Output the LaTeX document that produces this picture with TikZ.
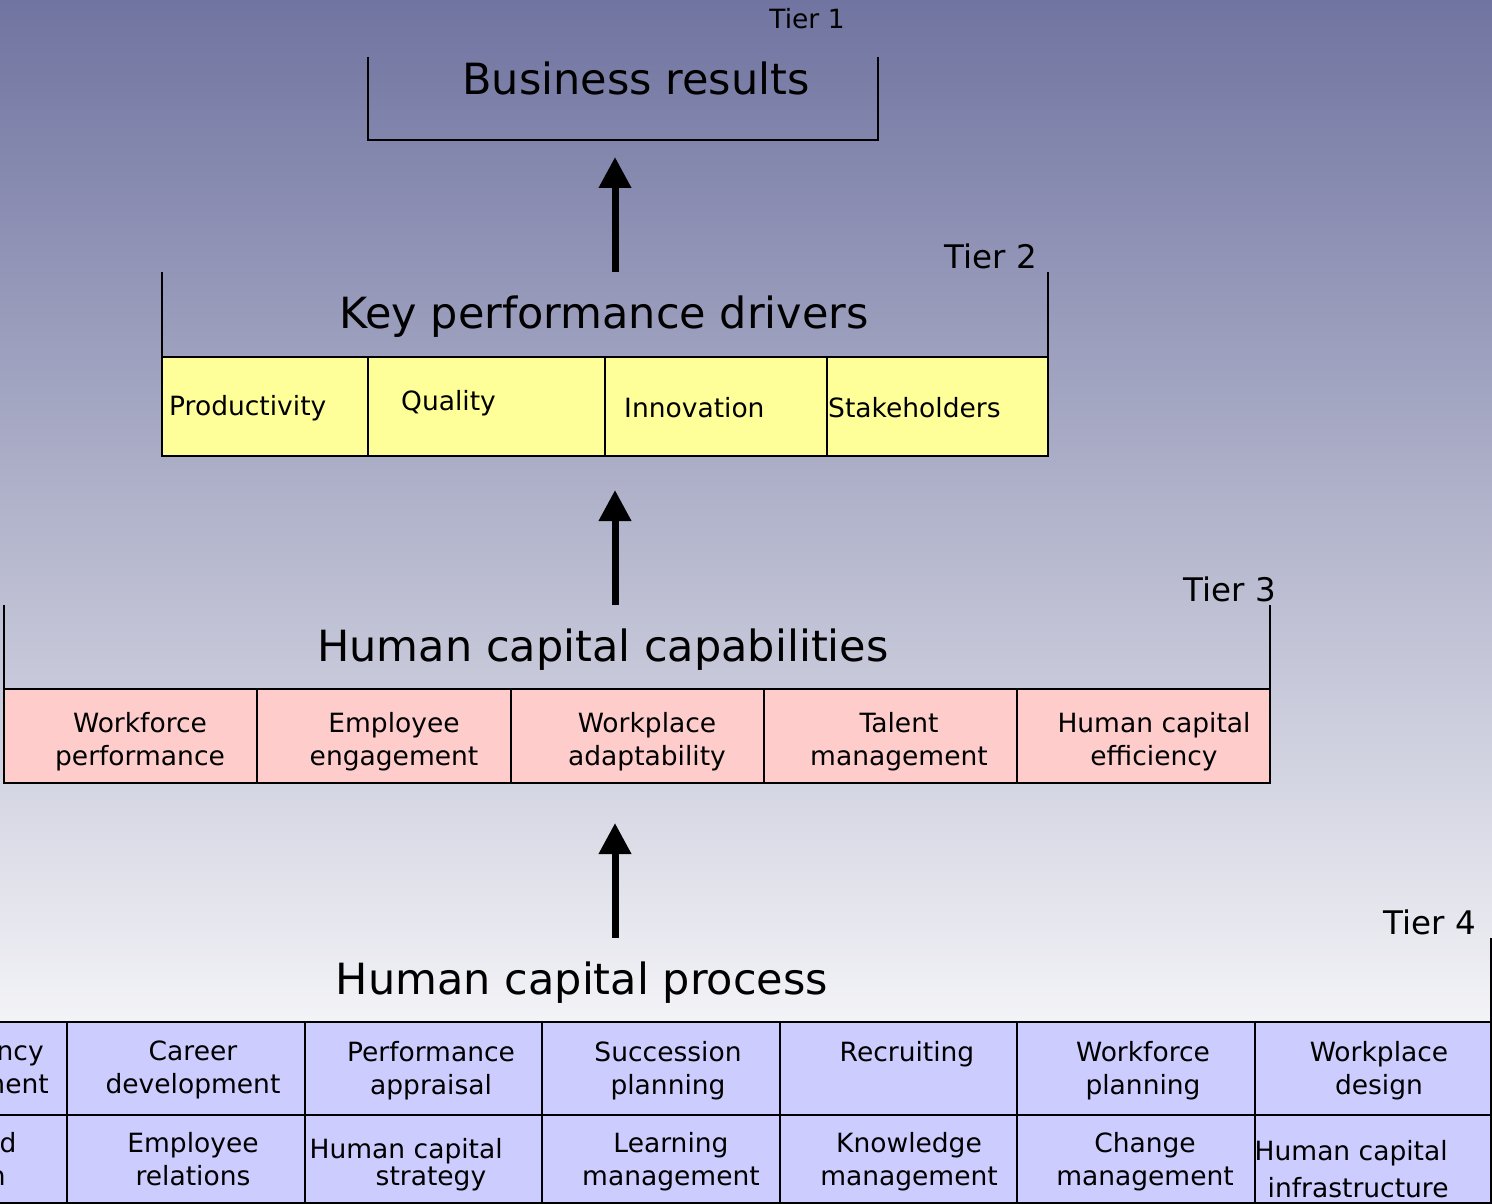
\documentclass[tikz,border=0pt]{standalone}
\usepackage{fontspec}
\setmainfont{DejaVu Sans}
\usetikzlibrary{arrows.meta}

\definecolor{bgtop}{RGB}{112,116,160}
\definecolor{bgmid}{RGB}{190,191,210}
\definecolor{bgbot}{RGB}{248,248,250}
\definecolor{kpdfill}{RGB}{255,255,153}
\definecolor{capfill}{RGB}{255,204,204}
\definecolor{procfill}{RGB}{204,204,255}

\tikzset{
  title/.style={anchor=base, inner sep=0pt, font=\fontsize{43}{50}\selectfont},
  tierlabel/.style={anchor=base, inner sep=0pt, font=\fontsize{32.5}{38}\selectfont},
  frame/.style={line width=2pt},
  cell/.style={draw, line width=2pt},
  item/.style={anchor=north, inner sep=0pt, align=center, font=\fontsize{26.5}{33}\selectfont},
  driver/.style={anchor=base west, inner sep=0pt, font=\fontsize{26.5}{33}\selectfont},
  upward/.style={line width=7pt, -{Triangle[length=31pt,width=31pt]}},
}

\begin{document}
\begin{tikzpicture}[x=1pt, y=-1pt]
\useasboundingbox (0,0) rectangle (1492,1204);
\clip (0,0) rectangle (1492,1204);
\shade[top color=bgtop, middle color=bgmid, bottom color=bgbot] (0,0) rectangle (1492,1060);
\fill[bgbot] (0,1059) rectangle (1492,1204);

% Tier 1: open frame round the business results
\path (368,57) coordinate (T1tl) (368,140) coordinate (T1bl)
      (878,140) coordinate (T1br) (878,57) coordinate (T1tr);
\draw[frame] (T1tl) -- (T1bl) -- (T1br) -- (T1tr);
\node[title] (results) at (636,95) {Business results};
\node[tierlabel, font=\fontsize{26.5}{30}\selectfont] (tier1) at (807,29) {Tier 1};

% Tier 2: key performance drivers
\path (162,272) coordinate (T2tl) (162,357) coordinate (T2ml)
      (1048,272) coordinate (T2tr) (1048,357) coordinate (T2mr);
\draw[frame] (T2tl) -- (T2ml) (T2tr) -- (T2mr);
\draw[cell, fill=kpdfill] (162,357) rectangle (1048,456);
\foreach \x in {368,605,827}
  \draw[frame] (\x,357) -- (\x,456);
\node[title] (drivers) at (604,328) {Key performance drivers};
\node[tierlabel] (tier2) at (991,268) {Tier 2};
\node[driver] (productivity) at (169,415) {Productivity};
\node[driver] (quality)      at (401,410) {Quality};
\node[driver] (innovation)   at (624,417) {Innovation};
\node[driver] (stakeholders) at (828,417) {Stakeholders};

% Tier 3: human capital capabilities
\path (4,605) coordinate (T3tl) (4,689) coordinate (T3ml)
      (1270,605) coordinate (T3tr) (1270,689) coordinate (T3mr);
\draw[frame] (T3tl) -- (T3ml) (T3tr) -- (T3mr);
\draw[cell, fill=capfill] (4,689) rectangle (1270,783);
\foreach \x in {257,511,764,1017}
  \draw[frame] (\x,689) -- (\x,783);
\node[title] (capabilities) at (603,661) {Human capital capabilities};
\node[tierlabel] (tier3) at (1230,601) {Tier 3};
\node[item] (performance) at (140,712)  {Workforce\\performance};
\node[item] (engagement)  at (394,712)  {Employee\\engagement};
\node[item] (adaptability) at (647,712) {Workplace\\adaptability};
\node[item] (talent)      at (899,712)  {Talent\\management};
\node[item] (efficiency)  at (1154,712) {Human capital\\efficiency};

% Tier 4: human capital process, wider than the page
\path (-171,938) coordinate (T4tl) (-171,1022) coordinate (T4ml)
      (1491,938) coordinate (T4tr) (1491,1022) coordinate (T4mr);
\draw[frame] (T4tl) -- (T4ml) (T4tr) -- (T4mr);
\draw[cell, fill=procfill] (-171,1022) rectangle (1491,1115);
\draw[cell, fill=procfill] (-171,1115) rectangle (1491,1203);
\foreach \x in {67,304.6,542.2,779.8,1017.4,1255}
  \draw[frame] (\x,1022) -- (\x,1203);
\node[title] (process) at (582,994) {Human capital process};
\node[tierlabel] (tier4) at (1430,934) {Tier 4};
% top row
\node[item] (competency) at (-40,1041)  {Competency\\management};
\node[item] (career)     at (193,1041)  {Career\\development};
\node[item] (appraisal)  at (431,1041)  {Performance\\appraisal};
\node[item] (succession) at (668,1041)  {Succession\\planning};
\node[item] (recruiting) at (907,1041)  {Recruiting};
\node[item] (wfplanning) at (1143,1041) {Workforce\\planning};
\node[item] (wpdesign)   at (1379,1041) {Workplace\\design};
% bottom row
\node[item] (rewards)    at (-69,1132)  {Rewards and\\recognition};
\node[item] (relations)  at (193,1132)  {Employee\\relations};
\node[item, anchor=north west, align=left] (strategy) at (309.5,1138)
  {Human capital\\[-6pt]\hspace*{66pt}strategy};
\node[item] (learning)   at (671,1132)  {Learning\\management};
\node[item] (knowledge)  at (909,1132)  {Knowledge\\management};
\node[item] (change)     at (1145,1132) {Change\\management};
\node[item, anchor=north west, align=left] (infrastructure) at (1254.5,1140)
  {Human capital\\[4pt]\hspace*{13pt}infrastructure};

% arrows between the tiers
\coordinate (A1tip) at (615,157);
\coordinate (A2tip) at (615,490);
\coordinate (A3tip) at (615,823);
\draw[upward] (T2tl -| A1tip) -- (A1tip);
\draw[upward] (T3tl -| A2tip) -- (A2tip);
\draw[upward] (T4tl -| A3tip) -- (A3tip);
\end{tikzpicture}
\end{document}
